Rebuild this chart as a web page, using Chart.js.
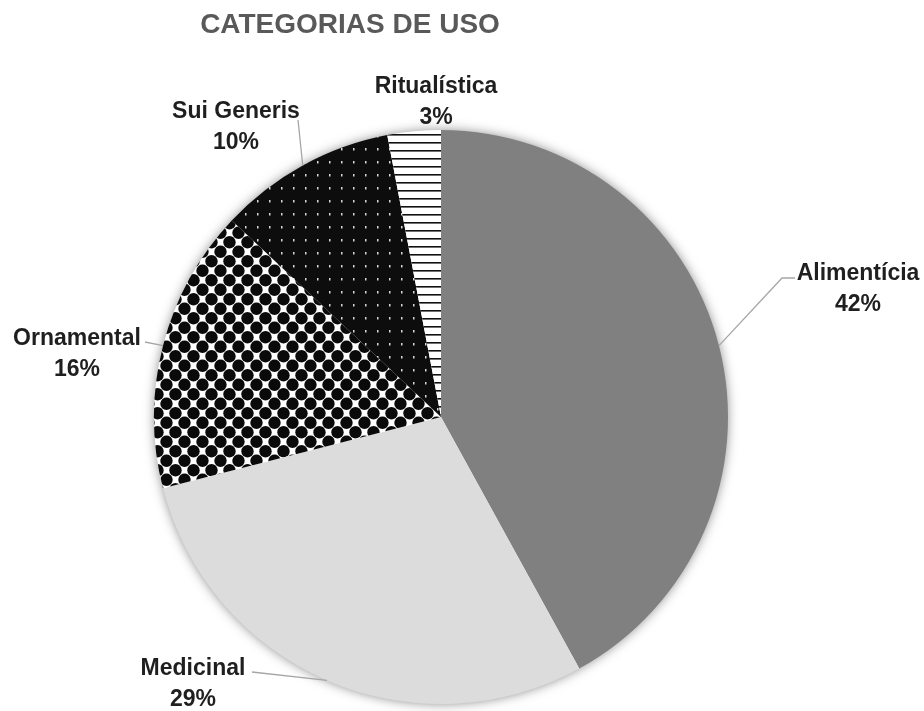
<!DOCTYPE html>
<html>
<head>
<meta charset="utf-8">
<title>Categorias de uso</title>
<script src="https://cdn.jsdelivr.net/npm/chart.js@4.4.1/dist/chart.umd.min.js"></script>
<style>
  body { margin: 0; background: #fff; }
  #wrap { position: relative; width: 924px; height: 711px; }
</style>
</head>
<body>
<div id="wrap"><canvas id="pieChart"></canvas></div>
<script>
const chartTitle = "CATEGORIAS DE USO";
const categories = ["Alimentícia", "Medicinal", "Ornamental", "Sui Generis", "Ritualística"];
const percentages = [42, 29, 16, 10, 3];

// label placement (centre of the two text lines, first baseline) and leader elbow
const labelPos = [
  { x: 858, y: 280, elbow: [[782, 278], [795, 278]] },
  { x: 193, y: 675, elbow: [[252, 672]] },
  { x: 77, y: 345, elbow: [[145, 342]] },
  { x: 236, y: 118, elbow: [[298, 120]] },
  { x: 436, y: 93, elbow: null },
];

// small canvases used as fill patterns
const makePattern = (w, h, draw) => {
  const c = document.createElement("canvas");
  c.width = w;
  c.height = h;
  const g = c.getContext("2d");
  draw(g);
  return g.createPattern(c, "repeat");
};

const diamondPattern = makePattern(18, 19, (g) => {
  g.fillStyle = "#fff";
  g.fillRect(0, 0, 18, 19);
  g.fillStyle = "#0a0a0a";
  const dots = [[4.5, 4.75], [13.5, 14.25], [13.5 - 18, 14.25], [4.5 + 18, 4.75], [4.5, 4.75 + 19], [13.5, 14.25 - 19]];
  dots.forEach(([x, y]) => {
    g.beginPath();
    g.arc(x, y, 6.2, 0, Math.PI * 2);
    g.fill();
  });
});

const speckPattern = makePattern(12, 13, (g) => {
  g.fillStyle = "#0d0d0d";
  g.fillRect(0, 0, 12, 13);
  g.fillStyle = "#d8d8d8";
  g.fillRect(5, 5, 1.5, 2.5);
});

const stripePattern = makePattern(4, 8, (g) => {
  g.fillStyle = "#fff";
  g.fillRect(0, 0, 4, 8);
  g.fillStyle = "#111";
  g.fillRect(0, 6, 4, 1.6);
});

const fills = ["#808080", "#dcdcdc", diamondPattern, speckPattern, stripePattern];

// soft shadow round the pie
const pieShadow = {
  id: "pieShadow",
  beforeDatasetsDraw(chart) {
    const arc = chart.getDatasetMeta(0).data[0];
    if (!arc) return;
    const ctx = chart.ctx;
    ctx.save();
    ctx.shadowColor = "rgba(0,0,0,0.5)";
    ctx.shadowBlur = 12;
    ctx.fillStyle = "#fff";
    ctx.beginPath();
    ctx.arc(arc.x, arc.y, arc.outerRadius - 1, 0, Math.PI * 2);
    ctx.fill();
    ctx.restore();
  },
};

// title, data labels and leader lines
const pieLabels = {
  id: "pieLabels",
  afterDraw(chart) {
    const ctx = chart.ctx;
    const meta = chart.getDatasetMeta(0);
    ctx.save();

    ctx.fillStyle = "#595959";
    ctx.font = "bold 28px 'Liberation Sans', Arial, sans-serif";
    ctx.textAlign = "center";
    ctx.textBaseline = "alphabetic";
    ctx.fillText(chartTitle, 350, 33);

    meta.data.forEach((arc, i) => {
      const pos = labelPos[i];
      const mid = (arc.startAngle + arc.endAngle) / 2;
      if (pos.elbow) {
        const ax = arc.x + Math.cos(mid) * arc.outerRadius;
        const ay = arc.y + Math.sin(mid) * arc.outerRadius;
        ctx.strokeStyle = "#a6a6a6";
        ctx.lineWidth = 1.3;
        ctx.beginPath();
        ctx.moveTo(ax, ay);
        pos.elbow.forEach(([x, y]) => ctx.lineTo(x, y));
        ctx.stroke();
      }
      ctx.fillStyle = "#1f1f1f";
      ctx.font = "bold 23px 'Liberation Sans', Arial, sans-serif";
      ctx.fillText(categories[i], pos.x, pos.y);
      ctx.fillText(percentages[i] + "%", pos.x, pos.y + 31);
    });
    ctx.restore();
  },
};

new Chart(document.getElementById("pieChart"), {
  type: "pie",
  data: {
    labels: categories,
    datasets: [
      {
        label: chartTitle,
        data: percentages,
        backgroundColor: fills,
        borderWidth: 0,
      },
    ],
  },
  options: {
    responsive: true,
    maintainAspectRatio: false,
    animation: false,
    layout: {
      padding: { top: 130, bottom: 7, left: 154, right: 196 },
    },
    plugins: {
      legend: { display: false },
      tooltip: { enabled: false },
    },
  },
  plugins: [pieShadow, pieLabels],
});
</script>
</body>
</html>
